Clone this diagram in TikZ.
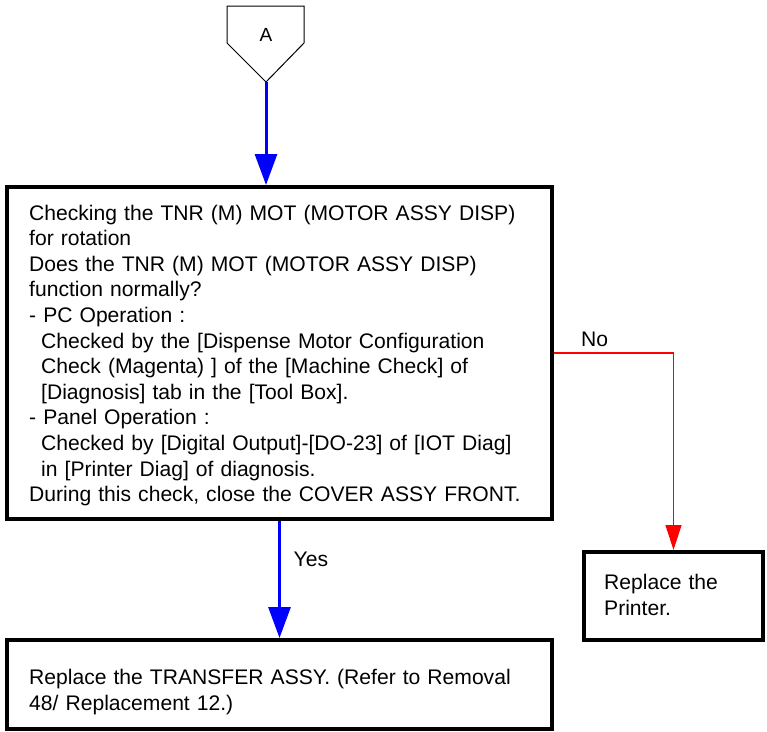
\documentclass[tikz,border=0pt]{standalone}
\usepackage{fontspec}
\setmainfont{Liberation Sans}
\usetikzlibrary{arrows.meta}
\definecolor{flowblue}{RGB}{0,0,255}
\definecolor{flowred}{RGB}{255,0,0}
\begin{document}
\begin{tikzpicture}[x=1pt,y=-1pt,
  stepbox/.style={draw, line width=4pt, rectangle, inner sep=0pt},
  steptext/.style={inner sep=0pt, anchor=base west, align=left,
    font=\fontsize{21.1pt}{25.6pt}\selectfont},
  yesflow/.style={draw=flowblue, line width=3pt,
    -{Triangle[length=31pt,width=22pt]}, color=flowblue},
  noflow/.style={draw=flowred, line width=1.3pt,
    -{Triangle[length=25pt,width=16pt]}, color=flowred},
  flowlabel/.style={inner sep=0pt, anchor=base west,
    font=\fontsize{21.1pt}{25.6pt}\selectfont}]
\useasboundingbox (0,0) rectangle (767,731);

% off-page connector A
\draw[line width=1pt] (227,6) -- (304,6) -- (304,43) -- (266,82) -- (227,43) -- cycle;
\coordinate (tipA) at (266,82);
\node[inner sep=0pt, anchor=base, font=\fontsize{19pt}{22pt}\selectfont] (labA) at (266,41) {A};

% boxes
\node[stepbox, minimum width=545pt, minimum height=332pt] (check) at (279.5,353) {};
\node[stepbox, minimum width=179pt, minimum height=88pt] (printer) at (673.5,596) {};
\node[stepbox, minimum width=545pt, minimum height=89pt] (transfer) at (279.5,684.5) {};

% box texts
\node[steptext, text width=520pt] (checktxt) at (29,220) {%
Checking the TNR (M) MOT (MOTOR ASSY DISP)\\
for rotation\\
Does the TNR (M) MOT (MOTOR ASSY DISP)\\
function normally?\\
- PC Operation :\\
\hspace*{12pt}Checked by the [Dispense Motor Configuration\\
\hspace*{12pt}Check (Magenta) ] of the [Machine Check] of\\
\hspace*{12pt}[Diagnosis] tab in the [Tool Box].\\
- Panel Operation :\\
\hspace*{12pt}Checked by [Digital Output]-[DO-23] of [IOT Diag]\\
\hspace*{12pt}in [Printer Diag] of diagnosis.\\
During this check, close the COVER ASSY FRONT.};
\node[steptext, text width=155pt] (printertxt) at (604,589) {Replace the\\[0.4pt]Printer.};
\node[steptext, text width=520pt] (transfertxt) at (29,684) {Replace the TRANSFER ASSY. (Refer to Removal\\[0.4pt]48/ Replacement 12.)};

% connectors
\draw[yesflow] (tipA) -- (tipA |- check.north);
\draw[yesflow] (check.south) -- (transfer.north);
\draw[noflow] (check.east) -| (printer.north);

% branch labels
\node[flowlabel] (yes) at (293.5,566.5) {Yes};
\node[flowlabel] (no) at (581,346) {No};
\end{tikzpicture}
\end{document}
